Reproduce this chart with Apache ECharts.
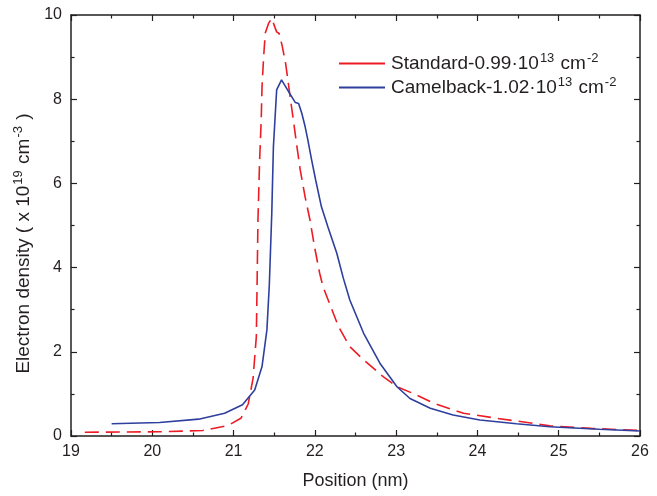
<!DOCTYPE html>
<html>
<head>
<meta charset="utf-8">
<script src="https://cdn.jsdelivr.net/npm/echarts@6/dist/echarts.min.js"></script>
<style>
    html, body { margin: 0; padding: 0; background: #fff; }
    #chart { width: 657px; height: 496px; }
</style>
</head>
<body>
<div id="chart"></div>
<script>
    // Standard-0.99e13 (red dashed)
    let stdPos = [19.17, 20.08, 20.62, 20.93, 21.09, 21.18, 21.24, 21.28, 21.29, 21.30, 21.32, 21.34, 21.35, 21.37, 21.39,
        21.43, 21.47, 21.49, 21.51, 21.53, 21.56, 21.58, 21.60, 21.64, 21.66, 21.69, 21.73, 21.78, 21.82, 21.88,
        21.94, 22.00, 22.06, 22.10, 22.20, 22.29, 22.43, 22.60, 22.84, 23.01, 23.21, 23.46, 23.83, 24.24, 24.69,
        24.89, 25.40, 26.00];
    let stdVal = [0.09, 0.10, 0.13, 0.25, 0.42, 0.76, 1.37, 2.36, 3.70, 5.13, 6.52, 7.50, 8.30, 9.01, 9.57,
        9.80, 9.92, 9.96, 9.70, 9.60, 9.56, 9.41, 9.25, 8.85, 8.57, 8.14, 7.58, 6.87, 6.32, 5.68,
        5.13, 4.45, 3.86, 3.55, 3.05, 2.60, 2.12, 1.81, 1.41, 1.17, 1.01, 0.78, 0.54, 0.42, 0.30,
        0.24, 0.18, 0.13];

    // Camelback-1.02e13 (blue solid)
    let camPos = [19.50, 20.09, 20.57, 20.89, 21.11, 21.26, 21.35, 21.41, 21.44, 21.47, 21.49, 21.53, 21.59, 21.61,
        21.69, 21.76, 21.80, 21.84, 21.88, 21.91, 21.96, 22.01, 22.08, 22.16, 22.27, 22.35, 22.43, 22.60, 22.80,
        23.01, 23.17, 23.42, 23.70, 24.03, 24.48, 24.89, 25.50, 26.00];
    let camVal = [0.29, 0.32, 0.40, 0.54, 0.74, 1.09, 1.65, 2.52, 3.60, 5.29, 6.87, 8.22, 8.46, 8.48,
        8.14, 7.92, 7.90, 7.66, 7.35, 7.07, 6.56, 6.08, 5.45, 4.97, 4.34, 3.75, 3.23, 2.44, 1.73,
        1.17, 0.89, 0.66, 0.50, 0.38, 0.29, 0.22, 0.16, 0.12];

    let legendText = {
        'Standard': '{a|Standard-0.99·10}{s|13}{a| cm}{s|-2}',
        'Camelback': '{a|Camelback-1.02·10}{s|13}{a| cm}{s|-2}'
    };

    let axisCol = '#231f20';
    let fontName = 'Liberation Sans';

    // 上标用的富文本样式
    let supRich = {
        a: {fontSize: 19, fontFamily: fontName, color: axisCol},
        s: {fontSize: 13, fontFamily: fontName, color: axisCol, padding: [0, 1, 10, 1]}
    };

    function pairs(xs, ys) {
        let out = [];
        for (let i = 0; i < xs.length; i++) {
            out.push([xs[i], ys[i]]);
        }
        return out;
    }

    // 四边框的坐标轴，刻度朝内
    function boxAxis(extra) {
        let base = {
            type: 'value',
            axisLine: {show: true, onZero: false, lineStyle: {color: axisCol, width: 1.5}},
            axisTick: {show: true, inside: true, length: 6, lineStyle: {color: axisCol, width: 1.2}},
            minorTick: {show: true, splitNumber: 2, length: 3.5, lineStyle: {color: axisCol, width: 1.2}},
            splitLine: {show: false},
            axisLabel: {color: axisCol, fontSize: 16, fontFamily: fontName}
        };
        return Object.assign(base, extra);
    }

    let chart = echarts.init(document.getElementById('chart'), null, {renderer: 'canvas'});
    chart.setOption({
        animation: false,
        backgroundColor: '#fff',
        grid: {left: 71, right: 17, top: 15, bottom: 60, containLabel: false},
        legend: {
            left: 334,
            top: 47,
            orient: 'vertical',
            itemGap: 3,
            itemWidth: 46,
            itemHeight: 2,
            icon: 'rect',
            data: ['Standard', 'Camelback'],
            formatter: function (name) { return legendText[name]; },
            textStyle: {
                color: axisCol,
                fontFamily: fontName,
                padding: [0, 0, 0, 1],
                rich: supRich
            }
        },
        xAxis: [
            boxAxis({
                min: 19, max: 26, interval: 1,
                name: 'Position (nm)',
                nameLocation: 'middle',
                nameGap: 36,
                nameTextStyle: {fontSize: 18, color: axisCol, fontFamily: fontName},
                axisLabel: {color: axisCol, fontSize: 16, fontFamily: fontName, margin: 8}
            }),
            boxAxis({
                min: 19, max: 26, interval: 1, position: 'top',
                axisLabel: {show: false}
            })
        ],
        yAxis: [
            boxAxis({
                min: 0, max: 10, interval: 2,
                name: '{a|Electron density ( x 10}{s|19}{a| cm}{s|-3}{a| )}',
                nameLocation: 'middle',
                nameGap: 27,
                nameTextStyle: {
                    color: axisCol,
                    fontFamily: fontName,
                    padding: [0, 36, 0, 0],
                    rich: supRich
                },
                axisLabel: {color: axisCol, fontSize: 16, fontFamily: fontName, margin: 9}
            }),
            boxAxis({
                min: 0, max: 10, interval: 2, position: 'right',
                axisLabel: {show: false}
            })
        ],
        series: [
            {
                name: 'Standard',
                type: 'line',
                data: pairs(stdPos, stdVal),
                showSymbol: false,
                symbol: 'none',
                color: '#ed1c24',
                lineStyle: {color: '#ed1c24', width: 1.6, type: [14, 7]}
            },
            {
                name: 'Camelback',
                type: 'line',
                data: pairs(camPos, camVal),
                showSymbol: false,
                symbol: 'none',
                color: '#2e3f9e',
                lineStyle: {color: '#2e3f9e', width: 1.6}
            }
        ]
    });
</script>
</body>
</html>
